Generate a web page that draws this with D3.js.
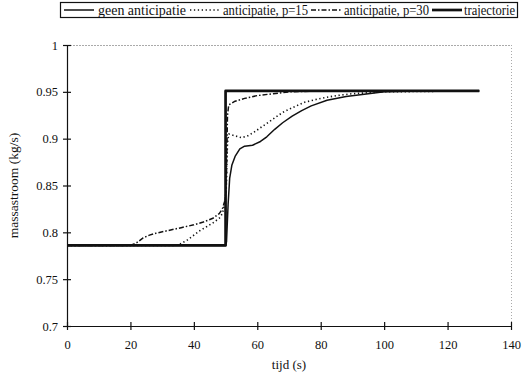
<!DOCTYPE html>
<html>
<head>
<meta charset="utf-8">
<script src="https://cdn.jsdelivr.net/npm/d3@7"></script>
<style>
  html, body { margin: 0; padding: 0; background: #fff; }
  svg { display: block; }
  text { font-family: "Liberation Serif", "Times New Roman", serif; fill: #111; }
</style>
</head>
<body>
<svg id="chart" width="522" height="378"></svg>
<script>
// Mass flow response (kg/s) against time (s) for each control strategy.
const xTicks = [0, 20, 40, 60, 80, 100, 120, 140];
const yTicks = [0.7, 0.75, 0.8, 0.85, 0.9, 0.95, 1];

const seriesNames = ["geen anticipatie", "anticipatie, p=15", "anticipatie, p=30", "trajectorie"];

const geenAnticipatie = [
  [0, 0.786], [50, 0.786], [50.3, 0.79], [50.8, 0.83], [51.3, 0.858], [52, 0.872],
  [53, 0.881], [54.5, 0.889], [56, 0.892], [58.5, 0.893], [61, 0.897], [63, 0.902],
  [65.5, 0.91], [68, 0.917], [71, 0.924], [74, 0.93], [77, 0.935], [82, 0.941],
  [88, 0.945], [95, 0.948], [100, 0.95], [110, 0.951], [130, 0.951]
];

const anticipatieP15 = [
  [0, 0.786], [34, 0.786], [36, 0.788], [38, 0.792], [40, 0.797], [42, 0.802],
  [44, 0.806], [46, 0.81], [48, 0.815], [49, 0.82], [49.7, 0.83], [50.2, 0.845],
  [50.6, 0.895], [51, 0.905], [53, 0.903], [55, 0.901], [57, 0.903], [59, 0.907],
  [62, 0.914], [65, 0.921], [68, 0.928], [71, 0.933], [75, 0.939], [80, 0.943],
  [85, 0.946], [90, 0.948], [100, 0.95], [130, 0.951]
];

const anticipatieP30 = [
  [0, 0.786], [20, 0.786], [22, 0.789], [24, 0.794], [26, 0.797], [28, 0.799],
  [32, 0.802], [36, 0.805], [40, 0.808], [43, 0.811], [46, 0.815], [48, 0.82],
  [49, 0.825], [49.7, 0.833], [50.2, 0.845], [50.6, 0.925], [51, 0.936], [53, 0.94],
  [56, 0.943], [60, 0.946], [65, 0.948], [70, 0.95], [80, 0.951], [130, 0.951]
];

const trajectorie = [
  [0, 0.786], [50, 0.786], [50, 0.951], [130, 0.951]
];

const svg = d3.select("#chart");
const W = 522, H = 378;
svg.append("rect").attr("width", W).attr("height", H).attr("fill", "#fff");

const plot = { left: 67, right: 511, top: 45, bottom: 326 };

const x = d3.scaleLinear().domain([0, 140]).range([plot.left, plot.right]);
const y = d3.scaleLinear().domain([0.7, 1]).range([plot.bottom, plot.top]);

// faint frame on top and right
svg.append("line")
  .attr("x1", plot.left).attr("x2", plot.right)
  .attr("y1", plot.top + 0.5).attr("y2", plot.top + 0.5)
  .attr("stroke", "#aaa").attr("stroke-width", 1).attr("stroke-dasharray", "2,1");
svg.append("line")
  .attr("x1", plot.right + 0.5).attr("x2", plot.right + 0.5)
  .attr("y1", plot.top).attr("y2", plot.bottom)
  .attr("stroke", "#aaa").attr("stroke-width", 1).attr("stroke-dasharray", "1,2");

// axes with cross-style ticks
const xAxis = d3.axisBottom(x).tickValues(xTicks).tickFormat(d3.format("d")).tickSize(0).tickPadding(14);
const gx = svg.append("g").attr("transform", `translate(0,${plot.bottom})`).call(xAxis);
gx.select(".domain").attr("stroke", "#111").attr("stroke-width", 1.2);
gx.selectAll(".tick").append("line").attr("y1", -4).attr("y2", 4).attr("stroke", "#111").attr("stroke-width", 1.2);
gx.selectAll(".tick text").attr("font-size", 12.5).attr("fill", "#111");

const yAxis = d3.axisLeft(y).tickValues(yTicks).tickFormat(d => d === 1 ? "1" : d3.format(".2~f")(d)).tickSize(0).tickPadding(9);
const gy = svg.append("g").attr("transform", `translate(${plot.left},0)`).call(yAxis);
gy.select(".domain").attr("stroke", "#111").attr("stroke-width", 1.2);
gy.selectAll(".tick").append("line").attr("x1", -4).attr("x2", 4).attr("stroke", "#111").attr("stroke-width", 1.2);
gy.selectAll(".tick text").attr("font-size", 12.5).attr("fill", "#111");

// axis titles
svg.append("text")
  .attr("x", (plot.left + plot.right) / 2).attr("y", 369)
  .attr("text-anchor", "middle").attr("font-size", 13)
  .text("tijd (s)");
svg.append("text")
  .attr("transform", `translate(18,${(plot.top + plot.bottom) / 2}) rotate(-90)`)
  .attr("text-anchor", "middle").attr("font-size", 13.5)
  .text("massastroom (kg/s)");

// series
const styles = [
  { data: geenAnticipatie, width: 1.5, dash: null },
  { data: anticipatieP15, width: 1.6, dash: "1.3,2.6" },
  { data: anticipatieP30, width: 1.5, dash: "5,2,1.5,2" },
  { data: trajectorie, width: 2.7, dash: null }
];

const line = d3.line().x(d => x(d[0])).y(d => y(d[1]));
styles.forEach(s => {
  svg.append("path")
    .datum(s.data)
    .attr("d", line)
    .attr("fill", "none")
    .attr("stroke", "#111")
    .attr("stroke-width", s.width)
    .attr("stroke-dasharray", s.dash)
    .attr("stroke-linejoin", "round");
});

// legend
const legend = svg.append("g");
legend.append("rect")
  .attr("x", 60.5).attr("y", 2.5).attr("width", 457).attr("height", 15)
  .attr("fill", "#fff").attr("stroke", "#111").attr("stroke-width", 1.2);

const legendPos = [
  { x1: 64, x2: 94, tx: 98, tw: 88 },
  { x1: 190, x2: 221, tx: 223, tw: 85 },
  { x1: 311, x2: 342, tx: 344, tw: 85 },
  { x1: 432, x2: 462, tx: 464, tw: 51 }
];
seriesNames.forEach((name, i) => {
  const p = legendPos[i], s = styles[i];
  legend.append("line")
    .attr("x1", p.x1).attr("x2", p.x2).attr("y1", 10).attr("y2", 10)
    .attr("stroke", "#111").attr("stroke-width", s.width)
    .attr("stroke-dasharray", s.dash);
  legend.append("text")
    .attr("x", p.tx).attr("y", 14.5)
    .attr("font-size", 14)
    .attr("textLength", p.tw)
    .attr("lengthAdjust", "spacingAndGlyphs")
    .text(name);
});
</script>
</body>
</html>
